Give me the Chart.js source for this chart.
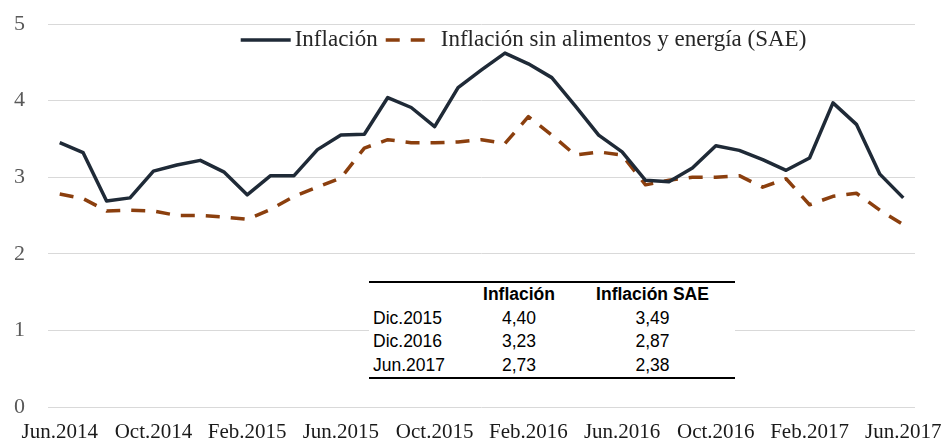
<!DOCTYPE html>
<html>
<head>
<meta charset="utf-8">
<script src="https://cdn.jsdelivr.net/npm/chart.js@4"></script>
<style>
  html, body { margin: 0; padding: 0; background: #fff; }
  #wrap { position: relative; width: 943px; height: 443px; }
  #chart { position: absolute; left: 0; top: 0; }
  #tabla {
    position: absolute; left: 369px; top: 281px; width: 366px;
    border-collapse: collapse; background: #fff;
    font-family: "Liberation Sans", Arial, sans-serif; font-size: 17.5px; color: #000;
    border-top: 2px solid #000; border-bottom: 2px solid #000;
  }
  #tabla td, #tabla th { padding: 0; height: 23.5px; line-height: 23.5px; }
  #tabla th { font-weight: bold; }
  #tabla .c1 { text-align: left; padding-left: 4px; width: 87px; }
  #tabla .c2 { text-align: center; width: 118px; }
  #tabla .c3 { text-align: center; padding-right: 8px; }
</style>
</head>
<body>
<div id="wrap">
  <canvas id="chart" width="943" height="443"></canvas>
  <table id="tabla"></table>
</div>
<script>
const meses = ['Jun.2014', 'Jul.2014', 'Ago.2014', 'Sep.2014', 'Oct.2014', 'Nov.2014', 'Dic.2014',
  'Ene.2015', 'Feb.2015', 'Mar.2015', 'Abr.2015', 'May.2015', 'Jun.2015', 'Jul.2015', 'Ago.2015',
  'Sep.2015', 'Oct.2015', 'Nov.2015', 'Dic.2015', 'Ene.2016', 'Feb.2016', 'Mar.2016', 'Abr.2016',
  'May.2016', 'Jun.2016', 'Jul.2016', 'Ago.2016', 'Sep.2016', 'Oct.2016', 'Nov.2016', 'Dic.2016',
  'Ene.2017', 'Feb.2017', 'Mar.2017', 'Abr.2017', 'May.2017', 'Jun.2017'];

const inflacion = [3.45, 3.32, 2.69, 2.73, 3.08, 3.16, 3.22, 3.07, 2.77, 3.02, 3.02, 3.36, 3.55,
  3.56, 4.04, 3.91, 3.66, 4.17, 4.40, 4.62, 4.48, 4.30, 3.93, 3.55, 3.33, 2.96, 2.94, 3.12, 3.41,
  3.35, 3.23, 3.09, 3.25, 3.97, 3.69, 3.04, 2.73];

const inflacionSAE = [2.78, 2.72, 2.56, 2.57, 2.56, 2.50, 2.50, 2.48, 2.45, 2.58, 2.75, 2.87, 2.99,
  3.38, 3.49, 3.45, 3.45, 3.46, 3.49, 3.44, 3.79, 3.55, 3.29, 3.33, 3.29, 2.90, 2.96, 3.00, 3.00,
  3.02, 2.87, 2.98, 2.64, 2.75, 2.79, 2.57, 2.38];

// tabla del recuadro
const tablaCabecera = ['', 'Inflación', 'Inflación SAE'];
const tablaFilas = [
  ['Dic.2015', '4,40', '3,49'],
  ['Dic.2016', '3,23', '2,87'],
  ['Jun.2017', '2,73', '2,38']
];

const tabla = document.getElementById('tabla');
let html = '<tr>' + tablaCabecera.map((t, i) => '<th class="c' + (i + 1) + '">' + t + '</th>').join('') + '</tr>';
tablaFilas.forEach(f => {
  html += '<tr>' + f.map((t, i) => '<td class="c' + (i + 1) + '">' + t + '</td>').join('') + '</tr>';
});
tabla.innerHTML = html;

// leyenda dentro del area del grafico, algo desplazada a la derecha
const leyenda = {
  id: 'leyenda',
  afterDraw(chart) {
    const ctx = chart.ctx;
    const area = chart.chartArea;
    const y = area.top + 16;
    ctx.save();
    ctx.font = '23px "Liberation Serif", serif';
    ctx.textBaseline = 'middle';
    const items = chart.data.datasets.map(ds => ({
      ds: ds,
      w: ds.borderDash ? 42 : 50,
      gap: ds.borderDash ? 13 : 4,
      tw: ctx.measureText(ds.label).width
    }));
    const total = items.reduce((s, it) => s + it.w + it.gap + it.tw, 0) + 8 * (items.length - 1);
    let x = (area.left + area.right) / 2 + 42 - total / 2;
    items.forEach(it => {
      const ds = it.ds;
      ctx.beginPath();
      ctx.setLineDash(ds.borderDash || []);
      ctx.lineWidth = ds.borderWidth;
      ctx.strokeStyle = ds.borderColor;
      ctx.moveTo(x, y);
      ctx.lineTo(x + it.w, y);
      ctx.stroke();
      ctx.setLineDash([]);
      x += it.w + it.gap;
      ctx.fillStyle = '#262626';
      ctx.fillText(ds.label, x, y);
      x += it.tw + 8;
    });
    ctx.restore();
  }
};

new Chart(document.getElementById('chart').getContext('2d'), {
  type: 'line',
  data: {
    labels: meses,
    datasets: [{
      label: 'Inflación',
      data: inflacion,
      borderColor: '#1f2a37',
      borderWidth: 3.5,
      pointRadius: 0,
      borderJoinStyle: 'round',
      tension: 0,
      fill: false
    }, {
      label: 'Inflación sin alimentos y energía (SAE)',
      data: inflacionSAE,
      borderColor: '#8b3f0e',
      borderWidth: 3.5,
      borderDash: [14, 11],
      pointRadius: 0,
      borderJoinStyle: 'round',
      tension: 0,
      fill: false
    }]
  },
  options: {
    responsive: false,
    animation: false,
    layout: { padding: { left: 14, right: 28, top: 24, bottom: 0 } },
    plugins: {
      legend: { display: false },
      tooltip: { enabled: false }
    },
    scales: {
      x: {
        offset: true,
        grid: { display: false },
        border: { display: false },
        afterFit: s => { s.height = 36; },
        ticks: {
          autoSkip: false,
          maxRotation: 0,
          padding: 0,
          color: '#1a1a1a',
          font: { family: '"Liberation Serif", serif', size: 21, lineHeight: 1.7 },
          callback: (v, i) => (i % 4 === 0 ? meses[i] : '')
        }
      },
      y: {
        min: 0,
        max: 5,
        grid: { color: '#d9d9d9', lineWidth: 1, drawTicks: false },
        border: { display: false },
        afterFit: s => { s.width = 34; },
        ticks: {
          stepSize: 1,
          padding: 0,
          crossAlign: 'far',
          color: '#595959',
          font: { family: '"Liberation Serif", serif', size: 22 }
        }
      }
    }
  },
  plugins: [leyenda]
});
</script>
</body>
</html>
